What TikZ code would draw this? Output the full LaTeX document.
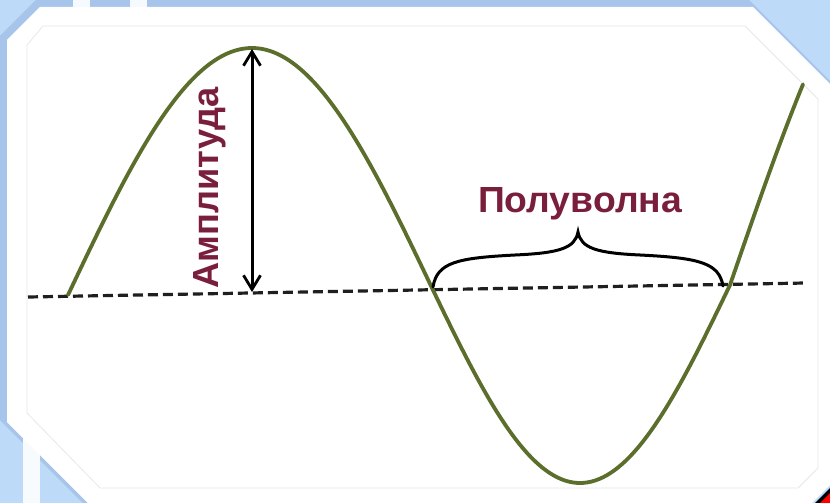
\documentclass[tikz,border=0pt]{standalone}
\usepackage{fontspec}
\setmainfont{Liberation Sans}
\usetikzlibrary{arrows.meta}
\definecolor{bgblue}{HTML}{BDDBF9}
\definecolor{bgdark}{HTML}{A7C4EA}
\definecolor{wavecol}{HTML}{5B6E2B}
\definecolor{lblcol}{HTML}{7A1F3B}
\definecolor{innerline}{HTML}{E8E8E8}
\tikzset{
  wave/.style={draw=wavecol, line width=3.8pt, line cap=round, line join=round},
  baseline/.style={draw=black!88, line width=3.2pt, dash pattern=on 10pt off 5pt},
  ampl/.style={draw=black, line width=3pt, {Straight Barb[length=14pt,width=17pt,line width=2.8pt]}-{Straight Barb[length=14pt,width=17pt,line width=2.8pt]}},
  bracecurve/.style={draw=black, line width=3pt, line cap=round},
  lbl/.style={text=lblcol, inner sep=0pt, font=\bfseries}
}
\begin{document}
\begin{tikzpicture}[x=1pt,y=-1pt]
\useasboundingbox (0,0) rectangle (830,503);
% background
\fill[bgblue] (0,0) rectangle (830,503);
\fill[bgdark] (36,0) -- (749,0) -- (836,87) -- (836,476) -- (801,511) -- (91,511) -- (0,420) -- (0,36) -- cycle;
\fill[white!85!bgblue] (73,0) rectangle (90,8);
\fill[white!85!bgblue] (130,0) rectangle (147,8);
\fill[white!90!bgblue] (23,437) rectangle (40,503);
% corner fragment
\fill[black] (830,488) -- (830,503) -- (815,503) -- cycle;
\fill[red] (830,493) -- (830,503) -- (820,503) -- cycle;
% white panel
\fill[white] (40,7) -- (753,7) -- (840,94) -- (840,475) -- (806,509) -- (94,509) -- (7,422) -- (7,40) -- cycle;
\draw[innerline, line width=0.8pt] (43,26) -- (745,26) -- (818,99) -- (818,468) -- (798,488) -- (100,488) -- (27,413) -- (27,45) -- cycle;
% baseline
\coordinate (bl) at (28,297);
\coordinate (br) at (805,283);
\draw[baseline] (bl) -- (br);
% wave
\draw[wave]
  plot[domain=68:252, samples=50] (\x, {295-247*sin((\x-68)/184*90)})
  -- plot[domain=252:432, samples=50] (\x, {48+240*(1-cos((\x-252)/180*90))})
  -- plot[domain=432:580, samples=40] (\x, {288+195*sin((\x-432)/148*90)})
  -- plot[domain=580:730, samples=40] (\x, {483-198*(1-cos((\x-580)/150*90))})
  -- plot[domain=730:803, samples=25] (\x, {285-370*sin((\x-730)/200*90)});
% amplitude arrow
\coordinate (peak) at (252,49);
\coordinate (foot) at (252,292);
\draw[ampl] (foot) -- (peak);
\node[lbl, rotate=90, anchor=base] (amp) at (218,188) {\resizebox{201pt}{25pt}{Амплитуда}};
% half-wave brace
\coordinate (z1) at (433,287);
\coordinate (tip) at (578,232);
\coordinate (z2) at (723,286);
\draw[bracecurve] (z1) .. controls (437,262) and (458,258) .. (515,255)
  .. controls (560,253) and (575,248) .. (tip)
  .. controls (581,248) and (596,253) .. (640,255)
  .. controls (700,258) and (719,263) .. (z2);
\node[lbl, anchor=base] (half) at (580,212) {\resizebox{204pt}{25pt}{Полуволна}};
\end{tikzpicture}
\end{document}
